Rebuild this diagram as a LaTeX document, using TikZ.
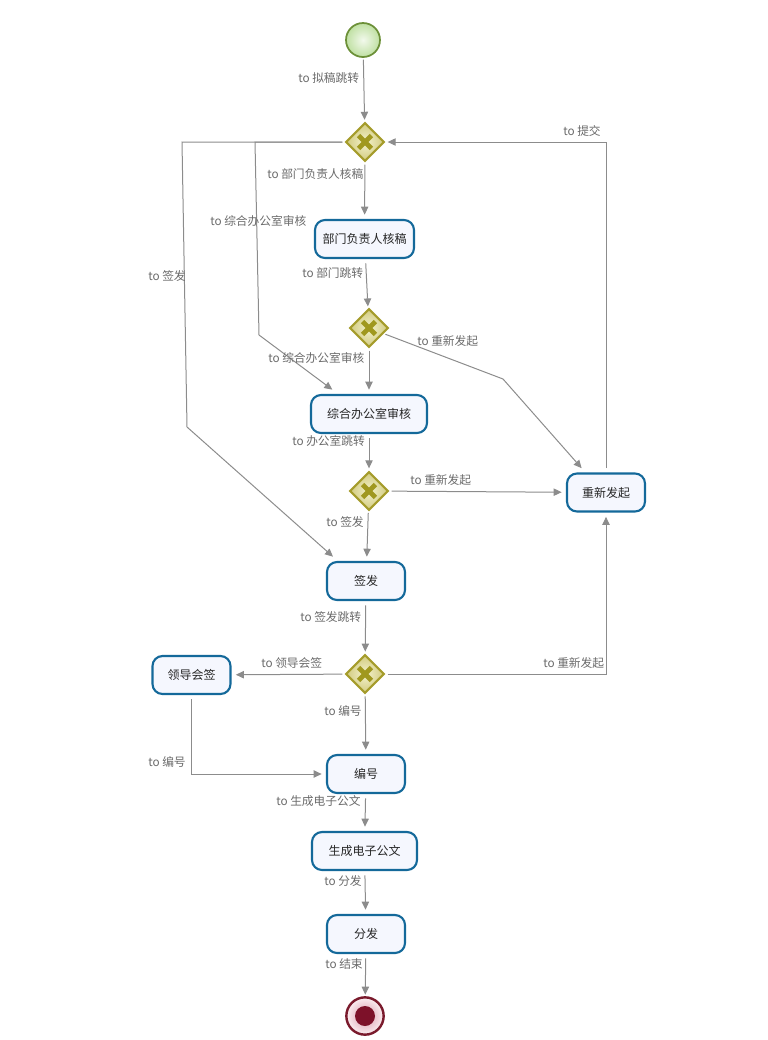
\documentclass[tikz,border=0pt]{standalone}
\usepackage{fontspec}
\newfontfamily\cjk{Noto Sans CJK SC}
\usetikzlibrary{shapes.geometric,arrows.meta,calc}
\definecolor{flowline}{HTML}{8C8C8C}
\definecolor{flowtext}{HTML}{6A6A6A}
\definecolor{taskedge}{HTML}{14699A}
\definecolor{taskfill}{HTML}{F5F7FE}
\definecolor{gwedge}{HTML}{A59C2B}
\definecolor{gwmark}{HTML}{A0981F}
\definecolor{gwlight}{HTML}{F3F2CC}
\definecolor{gwdark}{HTML}{D2CB80}
\definecolor{startedge}{HTML}{6C9038}
\definecolor{startlight}{HTML}{F2F9EC}
\definecolor{startdark}{HTML}{BFE0A2}
\definecolor{endedge}{HTML}{7A1A2C}
\definecolor{endlight}{HTML}{FBEEF1}
\definecolor{endmid}{HTML}{D99AAA}
\definecolor{endcore}{HTML}{7D1129}
\begin{document}
\begin{tikzpicture}[x=0.75pt,y=-0.75pt,
  task/.style={rectangle,rounded corners=7.5pt,draw=taskedge,line width=1.6pt,
    fill=taskfill,minimum width=58.5pt,minimum height=28.5pt,inner sep=0pt,
    outer sep=4pt,font=\cjk\fontsize{9}{11}\selectfont,text=black!85},
  gateway/.style={diamond,draw=gwedge,line width=1.5pt,inner color=gwlight,
    outer color=gwdark,minimum width=30pt,minimum height=30pt,inner sep=0pt,
    outer sep=2pt,
    path picture={\draw[gwmark,line width=3.6pt]
      ([shift={(-4.8pt,-4.8pt)}]path picture bounding box.center) --
      ([shift={(4.8pt,4.8pt)}]path picture bounding box.center)
      ([shift={(-4.8pt,4.8pt)}]path picture bounding box.center) --
      ([shift={(4.8pt,-4.8pt)}]path picture bounding box.center);}},
  startevt/.style={circle,draw=startedge,line width=1.3pt,inner color=startlight,
    outer color=startdark,minimum size=25.5pt,inner sep=0pt,outer sep=2pt},
  endevt/.style={circle,draw=endedge,line width=1.8pt,inner color=endmid,
    outer color=endlight,minimum size=28pt,inner sep=0pt,outer sep=2pt,
    path picture={\fill[endcore] (path picture bounding box.center) circle[radius=7.5pt];}},
  flow/.style={draw=flowline,line width=0.75pt,-{Triangle[length=6pt,width=5.5pt]}},
  lbl/.style={anchor=west,inner sep=0pt,text=flowtext,font=\cjk\fontsize{8.8}{11}\selectfont}
]
\useasboundingbox (0,0) rectangle (768,1040);

% events, gateways and tasks
\node[startevt] (s) at (363,40) {};
\node[gateway] (g1) at (365,142) {};
\node[task,minimum width=74.25pt] (t1) at (364.5,239) {部门负责人核稿};
\node[gateway] (g2) at (369,328) {};
\node[task,minimum width=87pt] (t2) at (369,414) {综合办公室审核};
\node[gateway] (g3) at (369,491) {};
\node[task] (t3) at (606,492.5) {重新发起};
\node[task] (t4) at (366,581) {签发};
\node[gateway] (g4) at (365,674) {};
\node[task] (t5) at (191.5,675) {领导会签};
\node[task] (t6) at (366,774) {编号};
\node[task,minimum width=78.75pt] (t7) at (364.5,851) {生成电子公文};
\node[task] (t8) at (366,934) {分发};
\node[endevt] (e) at (365,1016) {};

% bend points of the routed flows
\coordinate (b1) at (255,142);
\coordinate (b2) at (259,335);
\coordinate (b3) at (182,142);
\coordinate (b4) at (187,427);
\coordinate (b5) at (503,379);

% sequence flows
\draw[flow] (s) -- (g1);
\draw[flow] (g1) -- (t1);
\draw[flow] (g1.west) -- (b1) -- (b2) -- ([xshift=20pt]t2.north west);
\draw[flow] (g1.west) -- (b3) -- (b4) -- ([xshift=8.5pt]t4.north west);
\draw[flow] (t1) -- (g2);
\draw[flow] (g2) -- (t2);
\draw[flow] (g2) -- (b5) -- ([xshift=15pt]t3.north west);
\draw[flow] (t2) -- (g3);
\draw[flow] (g3) -- (t3);
\draw[flow] (g3) -- (t4);
\draw[flow] (t3.north) -- (t3.north |- g1) -- (g1.east);
\draw[flow] (t4) -- (g4);
\draw[flow] (g4) -- (t5);
\draw[flow] (g4.east) -- (g4.east -| t3.south) -- (t3.south);
\draw[flow] (g4) -- (t6);
\draw[flow] (t5.south) -- (t5.south |- t6.west) -- (t6.west);
\draw[flow] (t6) -- (t7);
\draw[flow] (t7) -- (t8);
\draw[flow] (t8) -- (e);

% flow labels
\node[lbl] (l1) at (298,78) {to 拟稿跳转};
\node[lbl] (l2) at (267,174) {to 部门负责人核稿};
\node[lbl] (l3) at (210,221) {to 综合办公室审核};
\node[lbl] (l4) at (148,276) {to 签发};
\node[lbl] (l5) at (302,273) {to 部门跳转};
\node[lbl] (l6) at (268,358) {to 综合办公室审核};
\node[lbl] (l7) at (417,341) {to 重新发起};
\node[lbl] (l8) at (292,441) {to 办公室跳转};
\node[lbl] (l9) at (410,480) {to 重新发起};
\node[lbl] (l10) at (326,522) {to 签发};
\node[lbl] (l11) at (563,131) {to 提交};
\node[lbl] (l12) at (300,617) {to 签发跳转};
\node[lbl] (l13) at (261,663) {to 领导会签};
\node[lbl] (l14) at (543,663) {to 重新发起};
\node[lbl] (l15) at (324,711) {to 编号};
\node[lbl] (l16) at (148,762) {to 编号};
\node[lbl] (l17) at (276,801) {to 生成电子公文};
\node[lbl] (l18) at (324,881) {to 分发};
\node[lbl] (l19) at (325,964) {to 结束};
\end{tikzpicture}
\end{document}
